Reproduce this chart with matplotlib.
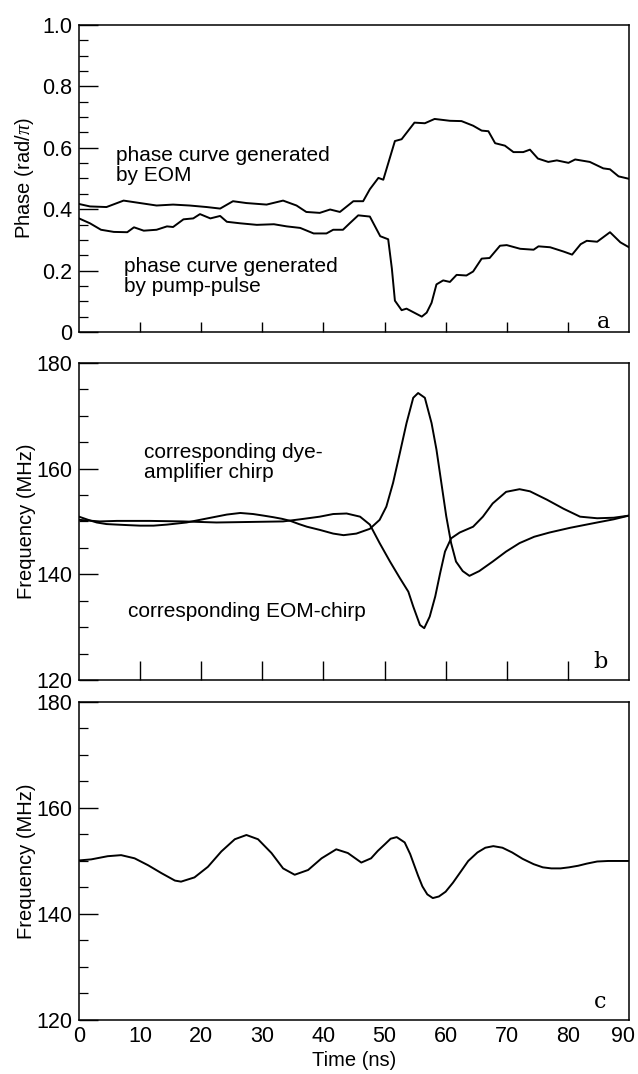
import matplotlib
matplotlib.use("Agg")
import matplotlib.pyplot as plt
import matplotlib.transforms as mtransforms
from matplotlib.ticker import FixedLocator, MultipleLocator, FixedFormatter

plt.rcParams["font.family"] = ["Liberation Sans", "DejaVu Sans"]
plt.rcParams["mathtext.fontset"] = "custom"
plt.rcParams["mathtext.it"] = "Liberation Serif:italic"

# panel a: phase curves (rad/pi)
eom_phase_t = [0, 1.8, 4.5, 7.3, 10.0, 12.7, 15.4, 18.1, 20.9, 23.1, 25.2, 27.4, 30.7,
               33.4, 35.6, 37.2, 39.4, 41.1, 42.7, 44.9, 46.5, 47.6, 49.0, 49.8, 51.7,
               52.8, 54.9, 56.6, 58.2, 60.7, 62.6, 64.5, 65.9, 67.0, 68.1, 69.7, 71.1,
               72.7, 73.8, 75.1, 76.8, 78.2, 80.1, 81.2, 83.6, 85.8, 86.9, 88.3, 90]
eom_phase = [0.417, 0.409, 0.407, 0.428, 0.420, 0.412, 0.415, 0.412, 0.407, 0.402, 0.426,
             0.420, 0.415, 0.428, 0.412, 0.391, 0.388, 0.399, 0.391, 0.426, 0.426, 0.465,
             0.502, 0.496, 0.622, 0.628, 0.682, 0.680, 0.694, 0.688, 0.687, 0.672, 0.656,
             0.654, 0.615, 0.607, 0.586, 0.586, 0.594, 0.565, 0.554, 0.559, 0.551, 0.562,
             0.554, 0.533, 0.530, 0.507, 0.499]

pump_phase_t = [0, 1.8, 3.6, 5.7, 7.9, 9.0, 10.6, 12.7, 14.4, 15.4, 17.1, 18.7, 19.8, 21.5,
                23.1, 24.2, 26.4, 29.1, 31.9, 34.0, 36.2, 38.4, 40.5, 41.6, 43.2, 44.3,
                45.7, 47.6, 49.3, 50.6, 51.2, 51.7, 52.8, 53.6, 56.1, 56.9, 57.7, 58.5,
                59.6, 60.7, 61.8, 63.4, 64.5, 65.9, 67.2, 68.9, 70.0, 72.2, 74.4, 75.2,
                77.1, 79.3, 80.7, 82.1, 83.1, 84.8, 86.9, 88.6, 90]
pump_phase = [0.370, 0.354, 0.333, 0.326, 0.325, 0.341, 0.330, 0.333, 0.344, 0.342, 0.367,
              0.370, 0.384, 0.370, 0.378, 0.359, 0.354, 0.349, 0.351, 0.344, 0.339, 0.321,
              0.321, 0.333, 0.333, 0.354, 0.380, 0.376, 0.312, 0.302, 0.207, 0.102, 0.071,
              0.076, 0.050, 0.063, 0.095, 0.155, 0.168, 0.163, 0.186, 0.184, 0.197, 0.239,
              0.241, 0.281, 0.283, 0.271, 0.268, 0.279, 0.276, 0.262, 0.252, 0.286, 0.297,
              0.294, 0.325, 0.292, 0.276]

# panel b: chirps (MHz)
dye_chirp_t = [0, 1.5, 2.9, 4.5, 6.2, 8.0, 10.0, 12.2, 14.4, 16.0, 17.6, 19.8, 22.0, 24.2,
               26.4, 28.5, 30.2, 31.8, 33.2, 34.6, 36.0, 37.3, 39.4, 41.6, 43.3, 45.4,
               47.6, 49.2, 50.3, 51.4, 52.5, 53.6, 54.7, 55.5, 56.6, 57.7, 58.5, 59.3,
               60.1, 60.9, 61.7, 62.8, 63.9, 65.5, 67.7, 69.9, 72.1, 74.5, 77.0, 80.4,
               84.8, 87.5, 90]
dye_chirp = [150.9, 150.3, 149.8, 149.5, 149.4, 149.3, 149.2, 149.2, 149.4, 149.6, 149.8,
             150.3, 150.8, 151.3, 151.6, 151.4, 151.1, 150.8, 150.5, 150.1, 149.5, 149.0,
             148.4, 147.7, 147.4, 147.7, 148.6, 150.3, 152.8, 157.3, 162.9, 168.6, 173.4,
             174.3, 173.4, 168.6, 163.6, 157.3, 151.0, 145.9, 142.4, 140.6, 139.7, 140.6,
             142.4, 144.3, 145.9, 147.1, 147.9, 148.8, 149.8, 150.4, 151.1]

eom_chirp_t = [0, 3.4, 6.2, 11.6, 17.1, 22.5, 28.0, 33.4, 36.2, 39.4, 41.6, 43.8, 46.0,
               47.6, 49.2, 50.9, 52.5, 53.9, 54.7, 55.8, 56.5, 57.4, 58.3, 59.1, 59.9,
               60.9, 62.3, 64.5, 66.1, 67.7, 69.9, 72.1, 73.8, 76.6, 79.3, 82.0, 84.8,
               87.5, 90]
eom_chirp = [150.3, 150.0, 150.1, 150.1, 150.0, 149.8, 149.9, 150.0, 150.4, 150.9, 151.4,
             151.5, 150.9, 149.4, 145.9, 142.4, 139.3, 136.7, 133.9, 130.4, 129.8, 132.0,
             135.8, 140.2, 144.3, 146.8, 147.9, 149.0, 150.9, 153.4, 155.6, 156.1, 155.7,
             154.1, 152.4, 150.9, 150.6, 150.7, 151.1]

# panel c: resulting frequency (MHz)
freq_c_t = [0, 2.0, 4.7, 6.9, 9.1, 11.3, 13.5, 15.7, 16.7, 18.9, 21.1, 23.3, 25.5, 27.4,
            29.3, 31.5, 33.4, 35.3, 37.5, 39.7, 42.1, 44.0, 46.2, 47.8, 48.9, 50.1, 51.0,
            52.0, 53.3, 54.2, 54.8, 55.5, 56.2, 57.0, 57.9, 58.9, 60.0, 61.2, 62.3, 63.7,
            65.2, 66.5, 67.8, 69.3, 70.9, 72.6, 74.4, 75.9, 77.3, 78.8, 80.2, 81.7, 83.1,
            84.8, 86.6, 88.3, 90]
freq_c = [150.1, 150.3, 150.9, 151.1, 150.5, 149.2, 147.7, 146.3, 146.1, 146.9, 148.9,
          151.8, 154.1, 154.9, 154.1, 151.5, 148.6, 147.4, 148.3, 150.5, 152.2, 151.5,
          149.7, 150.5, 151.9, 153.2, 154.2, 154.5, 153.5, 151.3, 149.4, 147.2, 145.2,
          143.7, 143.0, 143.3, 144.2, 145.9, 147.7, 150.0, 151.6, 152.5, 152.8, 152.5,
          151.6, 150.4, 149.4, 148.8, 148.6, 148.6, 148.8, 149.1, 149.5, 149.9, 150.0,
          150.0, 150.0]

x_ticks = [10, 20, 30, 40, 50, 60, 70, 80]
x_tick_labels = ["0", "10", "20", "30", "40", "50", "60", "70", "80", "90"]
phase_ticks = [0, 0.2, 0.4, 0.6, 0.8, 1.0]
phase_tick_labels = ["0", "0.2", "0.4", "0.6", "0.8", "1.0"]
freq_ticks = [120, 140, 160, 180]

FS = 15
TICK_FS = 15.5
LW = 1.4

fig = plt.figure(figsize=(6.38, 10.74), dpi=100)
ax_a = fig.add_axes([0.1238, 0.6909, 0.862, 0.2858])
ax_b = fig.add_axes([0.1238, 0.3669, 0.862, 0.2952])
ax_c = fig.add_axes([0.1238, 0.0503, 0.862, 0.2961])


def style_axis(ax, xtick_len):
    ax.set_xlim(0, 90)
    for sp in ax.spines.values():
        sp.set_linewidth(1.1)
    ax.tick_params(axis="y", which="major", direction="in", length=13.5, width=1.0,
                   labelsize=TICK_FS, pad=5, right=False)
    ax.tick_params(axis="y", which="minor", direction="in", length=6.5, width=0.9, right=False)
    ax.tick_params(axis="x", which="major", direction="in", length=xtick_len, width=1.0,
                   labelsize=TICK_FS, pad=4, top=False)
    ax.tick_params(axis="x", which="minor", bottom=False, top=False)
    ax.yaxis.set_label_coords(-0.078, 0.5)


# panel a
ax_a.plot(eom_phase_t, eom_phase, color="black", lw=LW)
ax_a.plot(pump_phase_t, pump_phase, color="black", lw=LW)
ax_a.set_ylim(0, 1.0)
ax_a.yaxis.set_major_locator(FixedLocator(phase_ticks))
ax_a.yaxis.set_major_formatter(FixedFormatter(phase_tick_labels))
ax_a.yaxis.set_minor_locator(MultipleLocator(0.05))
ax_a.xaxis.set_major_locator(FixedLocator(x_ticks))
style_axis(ax_a, 7.0)
ax_a.tick_params(axis="x", labelbottom=False)
ax_a.set_ylabel(r"Phase (rad/$\pi$)", fontsize=14.5)
ax_a.text(0.067, 0.606, "phase curve generated\nby EOM", transform=ax_a.transAxes,
          fontsize=FS, va="top", ha="left", linespacing=1.05)
ax_a.text(0.081, 0.244, "phase curve generated\nby pump-pulse", transform=ax_a.transAxes,
          fontsize=FS, va="top", ha="left", linespacing=1.05)
ax_a.text(0.942, 0.013, "a", transform=ax_a.transAxes, fontsize=16,
          family="DejaVu Serif", va="baseline", ha="left")

# panel b
ax_b.plot(dye_chirp_t, dye_chirp, color="black", lw=LW)
ax_b.plot(eom_chirp_t, eom_chirp, color="black", lw=LW)
ax_b.set_ylim(120, 180)
ax_b.yaxis.set_major_locator(FixedLocator(freq_ticks))
ax_b.yaxis.set_minor_locator(MultipleLocator(5))
ax_b.xaxis.set_major_locator(FixedLocator(x_ticks))
style_axis(ax_b, 13.5)
ax_b.tick_params(axis="x", labelbottom=False)
ax_b.set_ylabel("Frequency (MHz)", fontsize=14.5)
ax_b.text(0.118, 0.748, "corresponding dye-\namplifier chirp", transform=ax_b.transAxes,
          fontsize=FS, va="top", ha="left", linespacing=1.05)
ax_b.text(0.089, 0.247, "corresponding EOM-chirp", transform=ax_b.transAxes,
          fontsize=FS, va="top", ha="left")
ax_b.text(0.936, 0.038, "b", transform=ax_b.transAxes, fontsize=16,
          family="DejaVu Serif", va="baseline", ha="left")

# panel c
ax_c.plot(freq_c_t, freq_c, color="black", lw=LW)
ax_c.set_ylim(120, 180)
ax_c.yaxis.set_major_locator(FixedLocator(freq_ticks))
ax_c.yaxis.set_minor_locator(MultipleLocator(5))
ax_c.xaxis.set_major_locator(FixedLocator(list(range(0, 91, 10))))
ax_c.xaxis.set_major_formatter(FixedFormatter(x_tick_labels))
style_axis(ax_c, 13.5)
# no tick marks at the axis ends, only labels
for tick in ax_c.xaxis.get_major_ticks():
    if tick.get_loc() in (0, 90):
        tick.tick1line.set_visible(False)
# nudge the last label so it stays inside the figure
shift = mtransforms.ScaledTranslation(-4 / 72, 0, fig.dpi_scale_trans)
last_label = ax_c.get_xticklabels()[-1]
last_label.set_transform(last_label.get_transform() + shift)
ax_c.set_ylabel("Frequency (MHz)", fontsize=14.5)
ax_c.set_xlabel("Time (ns)", fontsize=14.5, labelpad=3)
ax_c.text(0.936, 0.038, "c", transform=ax_c.transAxes, fontsize=16,
          family="DejaVu Serif", va="baseline", ha="left")

fig.savefig("out.png", dpi=100)
